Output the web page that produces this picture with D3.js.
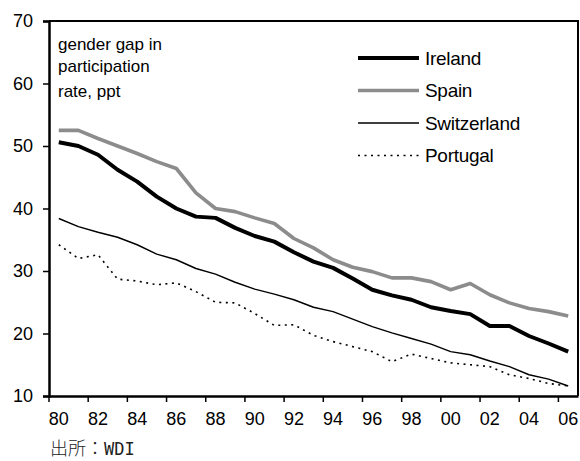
<!DOCTYPE html>
<html>
<head>
<meta charset="utf-8">
<script src="https://cdn.jsdelivr.net/npm/d3@7"></script>
<style>
  body { margin: 0; background: #fff; }
  svg { display: block; font-family: "Liberation Sans", Arial, sans-serif; }
</style>
</head>
<body>
<div id="chart"></div>
<script>
var years = d3.range(1980, 2007);

var ireland = [50.6, 50.0, 48.6, 46.2, 44.3, 41.9, 40.0, 38.7, 38.5, 36.9, 35.6, 34.7, 33.0, 31.5, 30.5, 28.8, 27.0, 26.1, 25.4, 24.2, 23.6, 23.1, 21.2, 21.2, 19.6, 18.4, 17.1];
var spain = [52.5, 52.5, 51.2, 50.0, 48.8, 47.5, 46.4, 42.5, 40.0, 39.5, 38.5, 37.6, 35.2, 33.7, 31.8, 30.6, 29.9, 28.9, 28.9, 28.3, 27.0, 28.0, 26.2, 24.9, 24.0, 23.5, 22.8];
var switzerland = [38.4, 37.1, 36.2, 35.4, 34.2, 32.7, 31.8, 30.4, 29.5, 28.2, 27.1, 26.3, 25.4, 24.2, 23.5, 22.3, 21.1, 20.1, 19.2, 18.3, 17.1, 16.6, 15.6, 14.7, 13.4, 12.7, 11.6];
var portugal = [34.2, 32.0, 32.6, 28.7, 28.4, 27.8, 28.1, 26.7, 25.0, 24.9, 23.2, 21.3, 21.4, 19.7, 18.7, 17.9, 17.1, 15.5, 16.7, 16.0, 15.3, 15.0, 14.7, 13.4, 12.8, 12.0, 11.6];

var yTicks = [10, 20, 30, 40, 50, 60, 70];
var xLabelYears = years.filter(function(d) { return (d - 1980) % 2 == 0; });

var series = [
  {name: "Portugal", values: portugal, color: "#000", width: 1.6, dash: "2,4.5"},
  {name: "Switzerland", values: switzerland, color: "#000", width: 1.4, dash: null},
  {name: "Spain", values: spain, color: "#8c8c8c", width: 3.6, dash: null},
  {name: "Ireland", values: ireland, color: "#000", width: 4, dash: null}
];
var legendOrder = ["Ireland", "Spain", "Switzerland", "Portugal"];

var width = 580, height = 461;
var margin = {top: 21, right: 2, bottom: 65, left: 49};

var svg = d3.select("#chart").append("svg")
    .attr("width", width)
    .attr("height", height);

var x = d3.scaleBand()
    .domain(years)
    .range([margin.left, width - margin.right])
    .padding(0);

var y = d3.scaleLinear()
    .domain([10, 70])
    .range([height - margin.bottom, margin.top]);

// frame (top and right)
svg.append("path")
    .attr("d", "M" + margin.left + "," + y(70) + "H" + (width - margin.right) + "V" + y(10))
    .style("fill", "none")
    .style("stroke", "#000")
    .style("stroke-width", 2);

// lines
var line = d3.line()
    .x(function(d, i) { return x(years[i]) + x.bandwidth() / 2; })
    .y(function(d) { return y(d); });

series.forEach(function(s) {
  svg.append("path")
      .datum(s.values)
      .attr("d", line)
      .style("fill", "none")
      .style("stroke", s.color)
      .style("stroke-width", s.width)
      .style("stroke-dasharray", s.dash)
      .style("stroke-linejoin", "round");
});

// y axis
var yAxis = svg.append("g")
    .attr("transform", "translate(" + margin.left + ",0)")
    .call(d3.axisLeft(y).tickValues(yTicks).tickSize(6).tickPadding(10).tickFormat(d3.format("d")));
yAxis.select(".domain").style("stroke-width", 2.5);
yAxis.selectAll(".tick line").style("stroke-width", 1.5);
yAxis.selectAll("text")
    .style("font-family", "Liberation Sans, Arial, sans-serif")
    .style("font-size", "18px")
    .style("fill", "#000");

// x axis
var xAxis = svg.append("g")
    .attr("transform", "translate(0," + y(10) + ")")
    .call(d3.axisBottom(x).tickValues(xLabelYears).tickSize(6).tickPadding(10.5).tickSizeOuter(0)
      .tickFormat(function(d) { return d3.format("02d")(d % 100); }));
xAxis.select(".domain").style("stroke-width", 2.5);
xAxis.selectAll(".tick line")
    .attr("x1", -x.bandwidth() / 2)
    .attr("x2", -x.bandwidth() / 2)
    .style("stroke-width", 1.5);
xAxis.selectAll("text")
    .style("font-family", "Liberation Sans, Arial, sans-serif")
    .style("font-size", "18px")
    .style("fill", "#000");

// annotation
var note = svg.append("text")
    .style("font-size", "17px")
    .style("fill", "#000");
note.append("tspan").attr("x", 58).attr("y", 50).text("gender gap in");
note.append("tspan").attr("x", 58).attr("y", 72).text("participation");
note.append("tspan").attr("x", 58).attr("y", 97).text("rate, ppt");

// legend
var legend = svg.append("g").attr("transform", "translate(358,58)");
legendOrder.forEach(function(name, i) {
  var s = series.filter(function(d) { return d.name == name; })[0];
  var g = legend.append("g").attr("transform", "translate(0," + (i * 32.5) + ")");
  g.append("line")
      .attr("x1", 0).attr("x2", 61)
      .style("stroke", s.color)
      .style("stroke-width", s.width)
      .style("stroke-dasharray", s.dash);
  g.append("text")
      .attr("x", 67)
      .attr("dy", "0.35em")
      .style("font-size", "19px")
      .style("letter-spacing", "-0.3px")
      .text(name);
});

// source
var src = svg.append("text")
    .attr("x", 50)
    .attr("y", 455)
    .style("font-family", "Noto Sans CJK JP")
    .style("font-size", "18px")
    .style("font-weight", 300)
    .style("fill", "#222");
src.append("tspan").text("出所：");
src.append("tspan").style("font-family", "DejaVu Sans Mono").style("font-size", "17px").text("WDI");
</script>
</body>
</html>
